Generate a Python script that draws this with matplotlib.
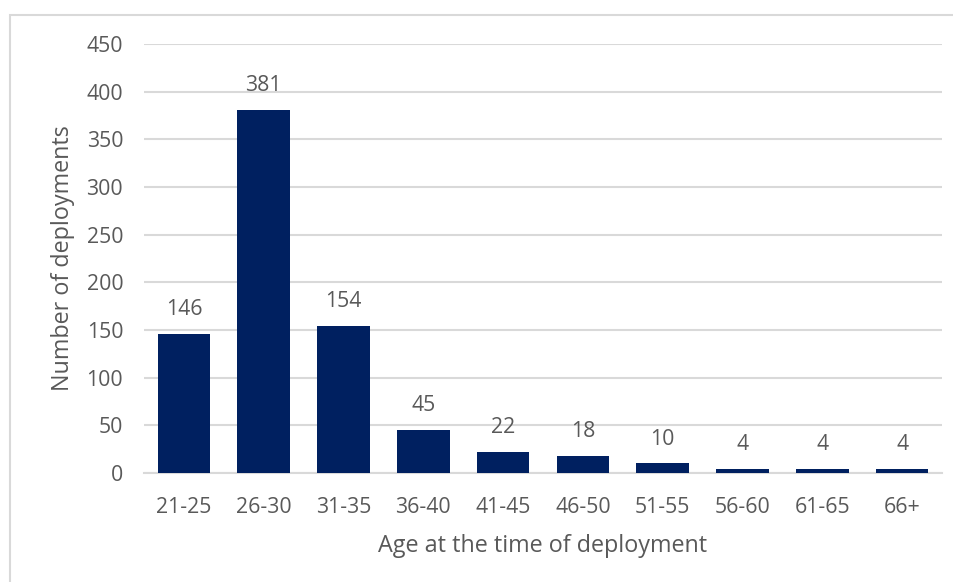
import matplotlib.pyplot as plt
from matplotlib.patches import Rectangle

age_groups = ["21-25", "26-30", "31-35", "36-40", "41-45",
              "46-50", "51-55", "56-60", "61-65", "66+"]
deployments = [146, 381, 154, 45, 22, 18, 10, 4, 4, 4]
y_ticks = [0, 50, 100, 150, 200, 250, 300, 350, 400, 450]

BAR_COLOR = "#002060"
TEXT_COLOR = "#595959"
GRID_COLOR = "#d9d9d9"

plt.rcParams["font.family"] = ["Open Sans", "DejaVu Sans"]

W, H = 954, 582
fig = plt.figure(figsize=(W / 100, H / 100), dpi=100)
ax = fig.add_axes([144 / W, 1 - 473 / H, (942 - 144) / W, (473 - 44) / H])

# outer chart frame, open to the right and bottom
fig.patches.append(Rectangle((10 / W, -0.1), 1.2, 1 - 15 / H + 0.1,
                             transform=fig.transFigure, fill=False,
                             edgecolor=GRID_COLOR, linewidth=1.5))

x = range(len(age_groups))
bars = ax.bar(x, deployments, width=0.66, color=BAR_COLOR, zorder=3)
for rect, val in zip(bars, deployments):
    ax.annotate(str(val), (rect.get_x() + rect.get_width() / 2, val),
                xytext=(0, 10), textcoords="offset points",
                ha="center", va="bottom", fontsize=15.3, color=TEXT_COLOR)

ax.set_xlim(-0.5, len(age_groups) - 0.5)
ax.set_ylim(0, 450)
ax.set_yticks(y_ticks)
ax.set_xticks(list(x))
ax.set_xticklabels(age_groups)
ax.tick_params(axis="both", length=0, labelsize=15.3, labelcolor=TEXT_COLOR)
ax.tick_params(axis="y", pad=15)
ax.tick_params(axis="x", pad=17)

ax.yaxis.grid(True, color=GRID_COLOR, linewidth=1.5, zorder=0)
ax.set_axisbelow(True)
for side in ("top", "right", "left"):
    ax.spines[side].set_visible(False)
ax.spines["bottom"].set_color(GRID_COLOR)
ax.spines["bottom"].set_linewidth(1.5)

ax.set_ylabel("Number of deployments", fontsize=16.8, color=TEXT_COLOR, labelpad=8)
ax.set_xlabel("Age at the time of deployment", fontsize=16.8, color=TEXT_COLOR, labelpad=12)

fig.savefig("out.png", dpi=100)
